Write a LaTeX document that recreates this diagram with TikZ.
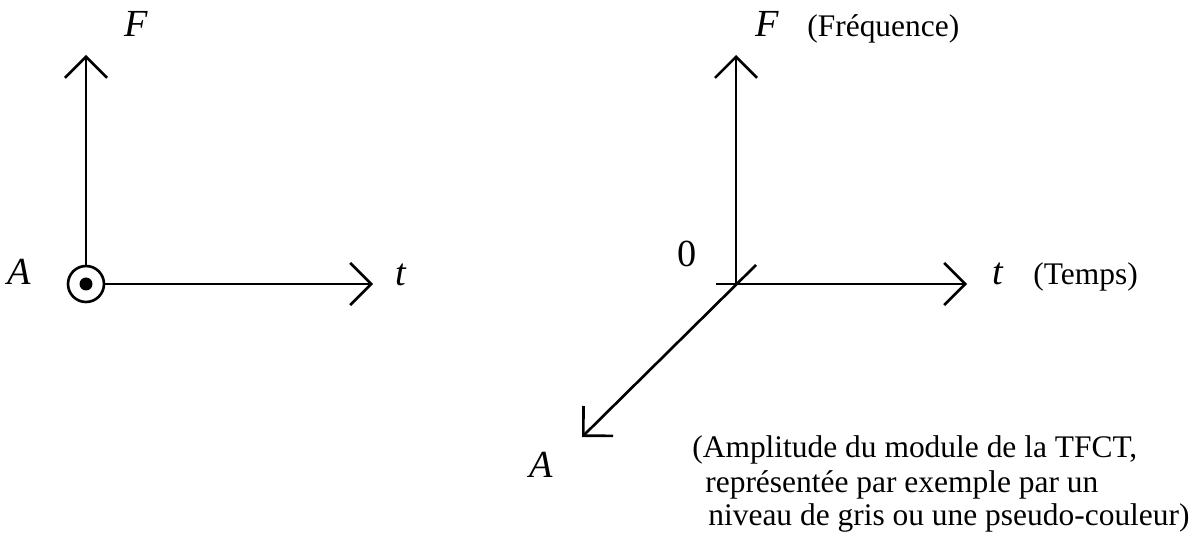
\documentclass[tikz,border=0pt]{standalone}
\usepackage{fontspec}
\setmainfont{Liberation Serif}
\usetikzlibrary{arrows.meta, positioning}

\begin{document}
\begin{tikzpicture}[x=0.02cm, y=-0.02cm, >={Straight Barb[length=0.42cm, width=0.84cm]},
  axis/.style={->, line width=1.5pt},
  lbl/.style={font=\fontsize{21.8}{24}\selectfont\itshape, inner sep=0pt, anchor=base},
  note/.style={font=\fontsize{17.9}{19}\selectfont, inner sep=0pt, anchor=base west}]
        \useasboundingbox (0,0) rectangle (1196,543);
        % plan (t,F), A vers le lecteur
        \coordinate (O1) at (86,284);
        \coordinate (Ftip1) at (86,55);
        \coordinate (ttip1) at (373,284);
        \node[circle, draw, line width=1.5pt, minimum size=0.72cm, inner sep=0pt] (ring) at (O1) {};
        \node[circle, fill, minimum size=0.26cm, inner sep=0pt] (dot) at (O1) {};
        \draw[axis] (ring.north) -- (Ftip1);
        \draw[axis] (ring.east) -- (ttip1);
        \node[lbl] (F1) at (136.5,37) {F};
        \node[lbl] (A1) at (19,285) {A};
        \node[lbl] (t1) at (401,286) {t};
        % vue en perspective
        \coordinate (O2) at (736,284);
        \coordinate (Ftip2) at (736,55);
        \coordinate (tback) at (716,284);
        \coordinate (ttip2) at (967,284);
        \coordinate (Aback) at (756,265);
        \coordinate (Atip2) at (582,437);
        \draw[axis] (O2) -- (Ftip2);
        \draw[axis] (tback) -- (ttip2);
        \draw[axis] (Aback) -- (Atip2);
        \node[lbl] (zero) at (687.5,267) {\upshape 0};
        \node[lbl] (F2) at (767.5,37) {F};
        \node[note] (freq) at (807,37) {(Fréquence)};
        \node[lbl] (t2) at (997.5,285) {t};
        \node[note] (temps) at (1033,285) {(Temps)};
        \node[lbl] (A2) at (541,478) {A};
        \node[note] (amp1) at (692,458) {(Amplitude du module de la TFCT,};
        \node[note] (amp2) at (705,492) {représentée par exemple par un};
        \node[note] (amp3) at (708,525) {niveau de gris ou une pseudo-couleur)};
\end{tikzpicture}
\end{document}
